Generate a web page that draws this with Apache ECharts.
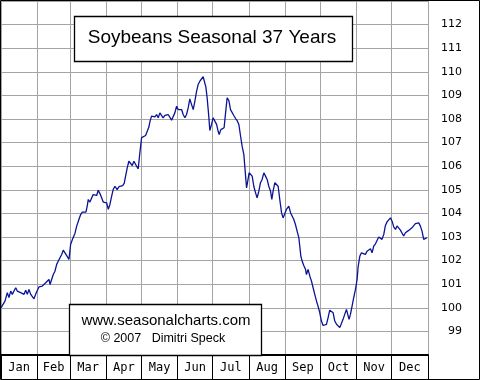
<!DOCTYPE html>
<html>
<head>
<meta charset="utf-8">
<script src="https://cdn.jsdelivr.net/npm/echarts@6/dist/echarts.min.js"></script>
<style>html,body{margin:0;padding:0;background:#fff}#c{width:480px;height:380px}</style>
</head>
<body>
<div id="c"></div>
<script>
// ---- data (day of year, seasonal index) ----
var days = [0,3.4,5.4,6.8,8.3,9.7,11.1,12.6,13.9,15.4,16.8,18.2,19.7,21.1,22.5,23.9,25.4,26.7,28.2,29.6,31.0,32.5,33.9,35.3,36.7,38.2,39.6,41.0,41.9,43.3,44.7,46.1,47.6,49.0,50.4,51.9,53.2,55.5,58.1,59.5,61.3,63.2,64.7,66.6,68.1,69.5,70.9,72.6,73.7,74.6,76.0,77.5,78.8,80.3,81.8,83.1,84.6,86.0,87.4,88.8,90.3,91.7,93.1,94.6,95.9,97.4,99.3,100.8,102.3,104.0,105.3,106.5,107.9,109.3,110.8,112.2,113.6,115.1,115.9,117.3,118.7,120.2,121.6,123.6,125.0,126.4,127.3,128.7,130.1,131.6,133.0,134.4,135.8,137.3,138.6,140.1,141.5,142.9,144.4,145.8,147.2,148.6,150.1,151.5,152.9,154.4,155.7,157.2,158.6,160.0,161.4,162.9,164.3,165.7,167.2,168.5,170.0,171.4,172.8,173.8,175.1,176.2,177.1,177.7,178.5,180.0,181.3,182.8,184.3,185.6,186.5,187.9,189.4,190.7,191.9,193.3,194.8,196.2,197.6,199.0,200.5,201.9,203.3,204.8,206.1,207.6,208.4,209.3,209.9,210.7,212.1,213.6,214.7,216.1,217.6,218.9,220.4,221.8,223.2,224.7,226.1,227.5,228.9,230.4,231.5,232.6,234.1,235.5,236.9,238.3,239.8,241.1,242.6,244.0,246.0,247.5,248.8,250.3,251.7,253.1,254.6,255.4,256.3,257.4,258.8,260.3,261.1,262.5,264.0,265.4,266.8,268.2,269.7,271.0,272.5,273.9,275.3,276.8,278.2,279.6,281.0,282.5,283.9,285.3,286.8,288.1,289.6,291.0,292.4,293.8,295.3,296.7,297.5,298.7,300.1,301.5,303.0,304.4,305.2,306.7,308.1,309.5,311.5,312.9,314.3,315.8,317.2,318.6,320.1,321.4,322.9,324.3,325.7,327.2,328.6,330.0,331.4,332.9,334.3,335.7,337.2,338.5,340.0,341.4,342.8,344.2,345.7,347.1,348.5,350.0,351.3,352.8,354.2,355.6,357.1,358.5,359.9,361.3,362.6,364.1];
var values = [100.00,100.28,100.64,100.43,100.71,100.57,100.71,100.85,100.71,100.78,100.64,100.71,100.57,100.74,100.57,100.78,100.57,100.49,100.38,100.57,100.57,100.89,100.95,100.92,100.99,101.06,101.13,101.20,100.99,101.20,101.41,101.55,101.84,101.98,102.12,102.26,102.44,102.26,102.05,102.68,102.93,103.15,103.46,103.74,103.95,104.05,104.03,104.05,104.31,104.59,104.48,104.56,104.80,104.87,104.76,104.98,104.84,104.66,104.48,104.52,104.45,104.17,104.38,104.73,105.01,105.15,105.01,105.13,105.15,105.18,105.27,105.58,105.93,106.21,106.14,106.03,106.21,106.25,106.00,105.89,106.57,107.21,107.27,107.30,107.34,107.66,107.89,108.12,108.15,108.09,108.19,108.05,108.26,108.33,108.05,108.15,108.12,108.19,108.12,107.95,107.95,108.26,108.54,108.40,108.47,108.40,108.19,108.05,108.19,108.47,108.85,108.61,108.40,108.75,109.18,109.46,109.60,109.67,109.79,109.84,109.36,108.90,108.40,108.06,107.51,107.77,108.05,107.91,107.77,107.48,107.34,107.55,107.63,107.63,108.23,108.90,108.78,108.40,108.38,108.15,108.02,107.93,107.77,107.27,106.85,106.49,106.00,105.44,105.08,105.30,105.72,105.79,105.58,105.15,104.87,104.66,104.94,105.30,105.44,105.72,105.58,105.44,105.15,104.94,104.59,104.94,105.30,105.36,105.15,104.59,104.03,103.81,103.81,104.17,104.31,104.03,103.95,103.74,103.53,103.25,102.97,102.61,102.19,101.98,101.79,101.63,101.41,101.63,101.34,101.13,100.85,100.57,100.28,100.07,99.79,99.44,99.25,99.22,99.30,99.58,99.90,99.93,99.79,99.44,99.30,99.30,99.16,99.22,99.51,99.72,99.93,99.86,99.51,99.72,100.07,100.43,100.78,101.20,101.71,102.18,102.33,102.40,102.26,102.40,102.36,102.50,102.33,102.61,102.71,102.66,103.00,103.02,102.90,103.11,103.49,103.64,103.67,103.81,103.67,103.43,103.32,103.47,103.43,103.29,103.28,103.04,103.18,103.25,103.28,103.32,103.39,103.46,103.57,103.60,103.60,103.46,103.25,102.90,102.97,102.97];
var months = ['Jan','Feb','Mar','Apr','May','Jun','Jul','Aug','Sep','Oct','Nov','Dec'];
var monthStarts = [0,31,59,90,120,151,181,212,243,273,304,334,365];
var yTicks = [98,99,100,101,102,103,104,105,106,107,108,109,110,111,112,113];
var titleText = 'Soybeans Seasonal 37 Years';
var creditLine1 = 'www.seasonalcharts.com';
var creditLine2 = '\u00A9 2007   Dimitri Speck';

var seriesData = days.map(function (d, i) { return [d, values[i]]; });
var monthMids = months.map(function (m, i) { return (monthStarts[i] + monthStarts[i + 1]) / 2; });

var chart = echarts.init(document.getElementById('c'), null, {renderer: 'canvas'});
chart.setOption({
  animation: false,
  backgroundColor: '#ffffff',
  grid: {left: 1, right: 52, top: 1, bottom: 25, containLabel: false, outerBoundsMode: 'none'},
  xAxis: {
    type: 'value', min: monthStarts[0], max: monthStarts[12],
    axisLine: {show: true, onZero: false, lineStyle: {color: '#000', width: 2}},
    axisTick: {show: true, inside: false, length: 24, customValues: monthStarts, lineStyle: {color: '#000', width: 1}},
    axisLabel: {
      show: true, customValues: monthMids, margin: 7,
      fontFamily: 'DejaVu Sans Mono', fontSize: 12, color: '#000',
      formatter: function (v) {
        var i = monthMids.indexOf(v);
        return i >= 0 ? months[i] : '';
      }
    },
    splitLine: {show: true, lineStyle: {color: '#a4a4a4', width: 1}}
  },
  yAxis: {
    type: 'value', position: 'right', min: yTicks[0], max: yTicks[yTicks.length - 1], interval: 1,
    axisLine: {show: false}, axisTick: {show: false},
    axisLabel: {
      show: true, align: 'right', margin: 34, showMinLabel: false, showMaxLabel: false,
      fontFamily: 'DejaVu Sans', fontSize: 11, color: '#000'
    },
    splitLine: {show: true, lineStyle: {color: '#a4a4a4', width: 1}}
  },
  series: [{
    type: 'line', data: seriesData, showSymbol: false, symbol: 'none',
    lineStyle: {color: '#0a1496', width: 1.3}, z: 3
  }],
  graphic: [
    {type: 'rect', z: 10, shape: {x: 74.5, y: 16.5, width: 278, height: 45}, style: {fill: '#fff', stroke: '#000', lineWidth: 1.3}},
    {type: 'text', z: 11, x: 212, y: 38, style: {text: titleText, fontFamily: 'Liberation Sans', fontSize: 19, fill: '#000', align: 'center', verticalAlign: 'middle'}},
    {type: 'rect', z: 10, shape: {x: 69.5, y: 304.5, width: 192, height: 51}, style: {fill: '#fff', stroke: '#000', lineWidth: 1.3}},
    {type: 'text', z: 11, x: 166, y: 321, style: {text: creditLine1, fontFamily: 'Liberation Sans', fontSize: 15, fill: '#000', align: 'center', verticalAlign: 'middle'}},
    {type: 'text', z: 11, x: 163, y: 339, style: {text: creditLine2, fontFamily: 'Liberation Sans', fontSize: 12.5, fill: '#000', align: 'center', verticalAlign: 'middle'}},
    {type: 'rect', z: 12, shape: {x: 0.5, y: 0.5, width: 479, height: 379}, style: {fill: 'none', stroke: '#000', lineWidth: 1}}
  ]
});
</script>
</body>
</html>
